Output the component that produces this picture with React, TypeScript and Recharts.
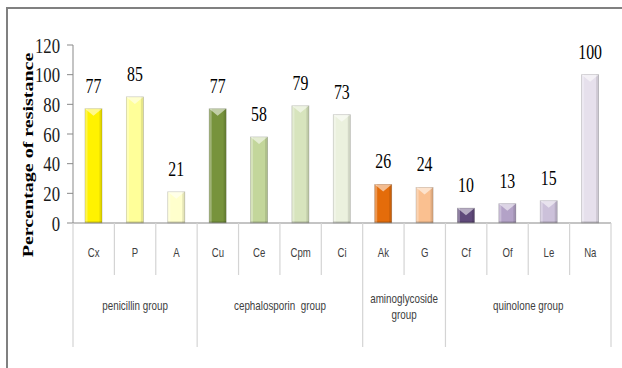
import { BarChart, Bar, XAxis, YAxis, Cell, LabelList } from 'recharts';

const codes = ['Cx', 'P', 'A', 'Cu', 'Ce', 'Cpm', 'Ci', 'Ak', 'G', 'Cf', 'Of', 'Le', 'Na'];
const resistance = [77, 85, 21, 77, 58, 79, 73, 26, 24, 10, 13, 15, 100];
const barColors = [
  '#FFF200', '#FFFF99', '#FFFFCC',
  '#77933C', '#C3D69B', '#D7E4BD', '#EBF1DE',
  '#E46C0A', '#FAC090',
  '#5F497A', '#B3A2C7', '#CCC1DA', '#E6E0EC',
];
const groupNames = [['penicillin group'], ['cephalosporin  group'], ['aminoglycoside', 'group'], ['quinolone group']];
const groupSizes = [3, 4, 2, 4];
const yTicks = [0, 20, 40, 60, 80, 100, 120];

const data = codes.map((code, i) => ({ code, value: resistance[i] }));

const W = 622;
const H = 368;
const LEFT = 73;
const RIGHT = 11;
const BAND = (W - LEFT - RIGHT) / codes.length;
const SERIF = '"Liberation Serif", "Times New Roman", serif';
const SANS = '"Liberation Sans", Arial, sans-serif';
const AXIS = '#898989';
const DIV = '#d4d4d4';

// index where each group starts
const groupStarts: number[] = [];
groupSizes.reduce((acc, n) => {
  groupStarts.push(acc);
  return acc + n;
}, 0);

function BevelBar(props: any) {
  const { x, y, width, height, fill } = props;
  if (!height || height <= 0) return null;
  const b = Math.min(7, height / 2);
  return (
    <g>
      <rect x={x} y={y} width={width} height={height} fill={fill} stroke="rgba(0,0,0,0.22)" strokeWidth={0.8} />
      <rect x={x} y={y} width={2.5} height={height} fill="rgba(255,255,255,0.3)" />
      <rect x={x + width - 2.5} y={y} width={2.5} height={height} fill="rgba(0,0,0,0.1)" />
      <rect x={x} y={y + height - 2} width={width} height={2} fill="rgba(0,0,0,0.1)" />
      <polygon points={`${x},${y} ${x + width},${y} ${x + width / 2},${y + b}`} fill="rgba(255,255,255,0.55)" />
    </g>
  );
}

function YTick(props: any) {
  const { x, y, payload } = props;
  return (
    <text
      transform={`translate(${x - 5},${y + 7.5}) scale(0.76 1)`}
      textAnchor="end"
      fontFamily={SERIF}
      fontSize={22}
      fill="#1a1a1a"
    >
      {payload.value}
    </text>
  );
}

function XTick(props: any) {
  const { x, y, index } = props;
  const left = x - BAND / 2;
  const gi = groupStarts.indexOf(index);
  const isLast = index === codes.length - 1;
  return (
    <g>
      <line x1={left} y1={y} x2={left} y2={gi >= 0 ? y + 124 : y + 52} stroke={DIV} strokeWidth={1.2} />
      {isLast && <line x1={left + BAND} y1={y} x2={left + BAND} y2={y + 124} stroke={DIV} strokeWidth={1.2} />}
      <text
        transform={`translate(${x},${y + 34}) scale(0.8 1)`}
        textAnchor="middle"
        fontFamily={SANS}
        fontSize={12}
        fill="#404040"
      >
        {codes[index]}
      </text>
      {gi >= 0 &&
        groupNames[gi].map((line, li) => {
          const cx = left + (groupSizes[gi] * BAND) / 2;
          const base = groupNames[gi].length > 1 ? y + 80 + li * 16 : y + 87;
          return (
            <text
              key={li}
              transform={`translate(${cx},${base}) scale(0.82 1)`}
              textAnchor="middle"
              fontFamily={SANS}
              fontSize={12}
              fill="#404040"
              style={{ whiteSpace: 'pre' }}
            >
              {line}
            </text>
          );
        })}
    </g>
  );
}

function ValueLabel(props: any) {
  const { x, y, width, value } = props;
  return (
    <text
      transform={`translate(${x + width / 2},${y - 16}) scale(0.72 1)`}
      textAnchor="middle"
      fontFamily={SERIF}
      fontSize={22}
      fill="#000"
    >
      {value}
    </text>
  );
}

export default function App() {
  return (
    <div style={{ position: 'fixed', left: 0, top: 0, width: W, height: H, overflow: 'hidden', background: '#fff' }}>
      <div
        style={{
          position: 'absolute',
          left: 6,
          top: 7,
          width: 800,
          height: 600,
          border: '2px solid #808080',
        }}
      />
      <div style={{ position: 'absolute', left: 0, top: 0 }}>
        <BarChart width={W} height={H} data={data} margin={{ top: 45, right: RIGHT, bottom: 21, left: 0 }} barSize={17}>
          <YAxis
            width={LEFT}
            domain={[0, 120]}
            ticks={yTicks}
            interval={0}
            stroke={AXIS}
            tickSize={6}
            tick={<YTick />}
          />
          <XAxis
            dataKey="code"
            height={124}
            interval={0}
            stroke={AXIS}
            tickLine={false}
            tickSize={0}
            tickMargin={0}
            tick={<XTick />}
          />
          <Bar dataKey="value" isAnimationActive={false} shape={<BevelBar />}>
            {data.map((_, i) => (
              <Cell key={i} fill={barColors[i]} />
            ))}
            <LabelList dataKey="value" content={<ValueLabel />} />
          </Bar>
        </BarChart>
      </div>
      <svg style={{ position: 'absolute', left: 0, top: 0 }} width={W} height={H} pointerEvents="none">
        <text
          transform="translate(33,155) scale(0.78 1) rotate(-90)"
          textAnchor="middle"
          fontFamily={SERIF}
          fontWeight="bold"
          fontSize={20}
          fill="#000"
        >
          Percentage of resistance
        </text>
      </svg>
    </div>
  );
}
